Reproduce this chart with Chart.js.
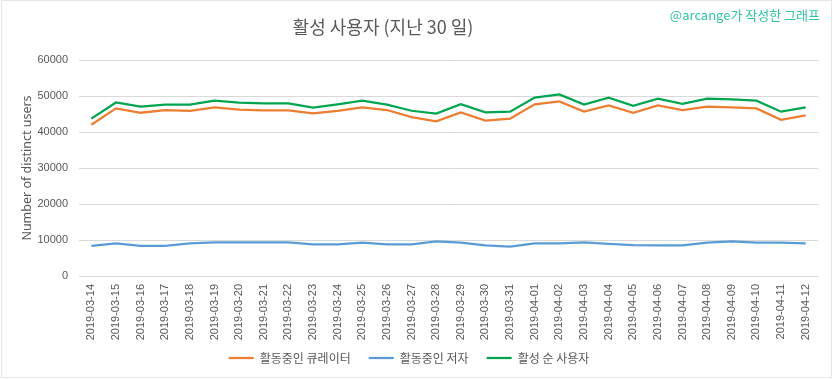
<!DOCTYPE html>
<html>
<head>
<meta charset="utf-8">
<script src="https://cdn.jsdelivr.net/npm/chart.js@4"></script>
<style>
html,body{margin:0;padding:0;background:#fff;}
#wrap{position:relative;width:833px;height:379px;}
#frame{position:absolute;left:1px;top:0;width:829px;height:376px;border:1px solid #e6e6e6;pointer-events:none;}
</style>
</head>
<body>
<div id="wrap"><canvas id="c" width="833" height="379"></canvas><div id="frame"></div></div>
<script>
const categories = ["2019-03-14","2019-03-15","2019-03-16","2019-03-17","2019-03-18","2019-03-19","2019-03-20","2019-03-21","2019-03-22","2019-03-23","2019-03-24","2019-03-25","2019-03-26","2019-03-27","2019-03-28","2019-03-29","2019-03-30","2019-03-31","2019-04-01","2019-04-02","2019-04-03","2019-04-04","2019-04-05","2019-04-06","2019-04-07","2019-04-08","2019-04-09","2019-04-10","2019-04-11","2019-04-12"];
const curators = [42000,46550,45350,46100,45900,46850,46200,46000,46000,45200,45900,46850,46100,44150,42950,45450,43150,43700,47700,48500,45650,47400,45350,47400,46100,47050,46850,46550,43400,44600];
const authors = [8400,9050,8400,8400,9050,9350,9350,9350,9350,8800,8800,9250,8800,8800,9600,9250,8500,8150,9050,9050,9350,8950,8600,8500,8500,9250,9600,9250,9250,9050];
const activeUsers = [43700,48200,47050,47600,47600,48700,48150,47950,47950,46750,47700,48700,47600,45900,45100,47700,45450,45650,49550,50450,47600,49550,47300,49250,47850,49250,49050,48700,45650,46850];
const yTicks = [0,10000,20000,30000,40000,50000,60000];
const seriesNames = ["활동중인 큐레이터","활동중인 저자","활성 순 사용자"];
const seriesColors = ["#ED7D31","#5B9BD5","#00A550"];
const titleText = "활성 사용자 (지난 30 일)";
const creditText = "@arcange가 작성한 그래프";

const textPlugin = {
  id: 'texts',
  afterDraw(chart) {
    const ctx = chart.ctx;
    ctx.save();
    ctx.fillStyle = '#595959';
    ctx.font = '18px "Noto Sans CJK KR", sans-serif';
    ctx.textAlign = 'center';
    ctx.textBaseline = 'middle';
    ctx.fillText(titleText, 383, 27);
    ctx.fillStyle = '#2fc6a4';
    ctx.font = '13px "Noto Sans CJK KR", sans-serif';
    ctx.textAlign = 'right';
    ctx.fillText(creditText, 820, 15);
    ctx.restore();
  }
};

const mk = (i, data) => ({
  label: seriesNames[i], data,
  borderColor: seriesColors[i], backgroundColor: seriesColors[i],
  borderWidth: 2.25, pointRadius: 0, tension: 0, fill: false
});

new Chart(document.getElementById('c'), {
  type: 'line',
  data: { labels: categories, datasets: [mk(0, curators), mk(1, authors), mk(2, activeUsers)] },
  options: {
    responsive: false, animation: false,
    layout: { padding: { top: 60, right: 15, left: 0, bottom: 5 } },
    plugins: {
      title: { display: false },
      tooltip: { enabled: false },
      legend: {
        position: 'bottom',
        labels: {
          usePointStyle: true, pointStyle: 'line', pointStyleWidth: 25,
          color: '#595959', font: { family: '"Noto Sans CJK KR", sans-serif', size: 12 },
          padding: 18
        }
      }
    },
    scales: {
      x: {
        offset: true,
        grid: { display: false, drawTicks: false },
        border: { display: true, color: '#d9d9d9' },
        ticks: { minRotation: 90, maxRotation: 90, autoSkip: false, padding: 8, color: '#595959', font: { family: '"Liberation Sans", sans-serif', size: 11 } },
        afterFit(s) { s.height = 58; s._computeLabelArea = () => undefined; }
      },
      y: {
        min: 0, max: 60000,
        afterBuildTicks(s) { s.ticks = yTicks.map(v => ({ value: v })); },
        grid: { color: '#d9d9d9', drawTicks: false },
        border: { display: false },
        ticks: { padding: 11, color: '#595959', font: { family: '"Liberation Sans", sans-serif', size: 11 }, callback: v => String(v) },
        title: { display: true, text: 'Number of distinct users', color: '#595959', font: { family: '"Noto Sans", sans-serif', size: 12.5 }, padding: { top: 20, bottom: 0 } },
        afterFit(s) { s.width = 79; }
      }
    }
  },
  plugins: [textPlugin]
});
</script>
</body>
</html>
